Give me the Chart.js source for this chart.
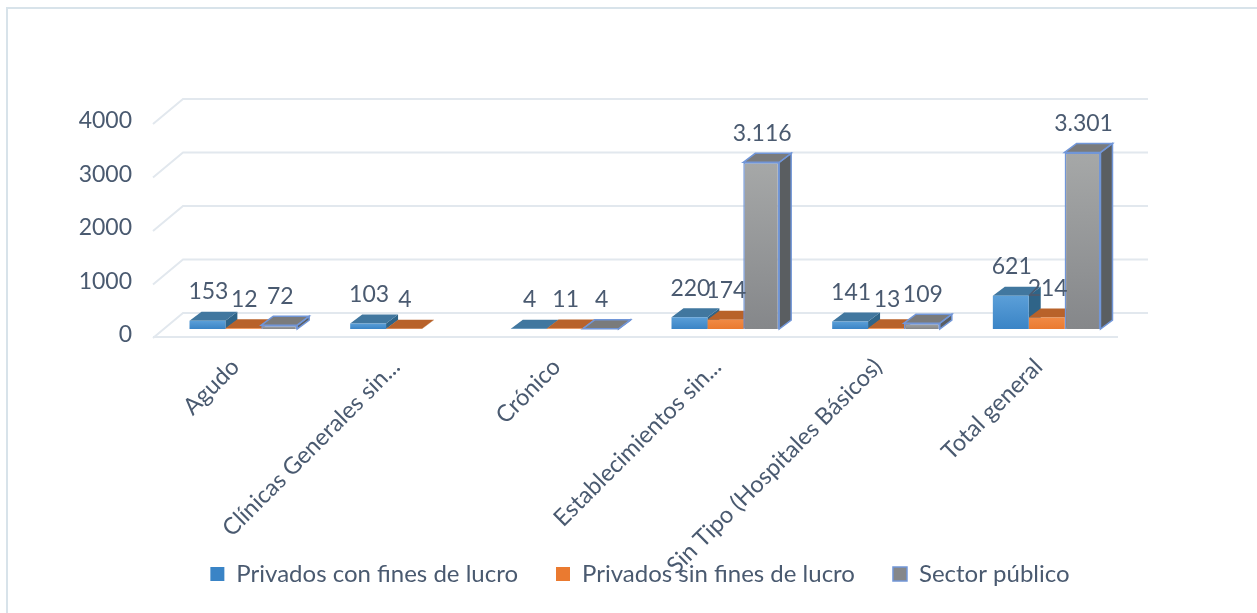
<!DOCTYPE html>
<html>
<head>
<meta charset="utf-8">
<script src="https://cdn.jsdelivr.net/npm/chart.js@4"></script>
<style>
  html, body { margin: 0; padding: 0; background: #fff; overflow: hidden; }
  #frame { position: absolute; left: 6px; top: 7px; width: 1260px; height: 620px; border: 2px solid #d8e3ea; box-sizing: border-box; }
  canvas { position: absolute; left: 0; top: 0; filter: blur(0.6px); }
</style>
</head>
<body>
<div id="frame"></div>
<canvas id="chart" width="1257" height="613"></canvas>
<script>
const categories = ['Agudo', 'Clínicas Generales sin...', 'Crónico', 'Establecimientos sin...', 'Sin Tipo (Hospitales Básicos)', 'Total general'];
const conFines = [153, 103, 4, 220, 141, 621];
const sinFines = [12, 4, 11, 174, 13, 214];
const publico = [72, null, 4, 3116, 109, 3301];

const textColor = '#4a5a70';
const gridColor = '#e2e8ee';
const fontFamily = 'Lato, sans-serif';

// front gradient top/bottom, then top face and side face of each series
const shades = [
  { hi: '#5b9fd8', lo: '#3a84c6', top: '#41779f', side: '#2f6488' },
  { hi: '#f08a45', lo: '#ea7a30', top: '#b8622a', side: '#a4541f' },
  { hi: '#a6a8a8', lo: '#85878a', top: '#7a7b7c', side: '#5a5e61' }
];
const depthX = 12;
const depthY = -9;

function frontFill(c) {
  const s = shades[c.datasetIndex];
  if (c.dataIndex === undefined || c.raw === null || c.raw === undefined) return s.lo;
  const y = c.chart.scales.y;
  const y0 = y.getPixelForValue(c.raw), y1 = y.getPixelForValue(0);
  // the scale has no pixels yet on the first pass
  if (!isFinite(y0) || !isFinite(y1)) return s.lo;
  const g = c.chart.ctx.createLinearGradient(0, y0, 0, y1);
  g.addColorStop(0, s.hi);
  g.addColorStop(1, s.lo);
  return g;
}

function face(ctx, pts, fill, stroke) {
  ctx.beginPath();
  pts.forEach((p, i) => i ? ctx.lineTo(p[0], p[1]) : ctx.moveTo(p[0], p[1]));
  ctx.closePath();
  ctx.fillStyle = fill;
  ctx.fill();
  if (stroke) {
    ctx.strokeStyle = stroke;
    ctx.lineWidth = 1.5;
    ctx.stroke();
  }
}

// grid walls behind the bars
const wallGrid = {
  id: 'wallGrid',
  beforeDatasetsDraw(chart) {
    const { ctx, scales: { y } } = chart;
    ctx.save();
    ctx.strokeStyle = gridColor;
    ctx.lineWidth = 2;
    y.ticks.forEach(t => {
      const py = y.getPixelForValue(t.value);
      ctx.beginPath();
      ctx.moveTo(153, py + 9);
      ctx.lineTo(183, py - 16);
      ctx.lineTo(1148, py - 16);
      ctx.stroke();
    });
    const floor = y.getPixelForValue(0) + 8;
    ctx.beginPath();
    ctx.moveTo(153, floor);
    ctx.lineTo(1118, floor);
    ctx.stroke();
    ctx.restore();
  }
};

// top and side faces of all series, left to right, before any front is drawn
const depthFaces = {
  id: 'depthFaces',
  beforeDatasetsDraw(chart) {
    const { ctx } = chart;
    ctx.save();
    chart.data.datasets.forEach((ds, d) => {
      const s = shades[d];
      const stroke = ds.borderWidth ? ds.borderColor : null;
      chart.getDatasetMeta(d).data.forEach((bar, i) => {
        if (ds.data[i] === null) return;
        const { x, y, base, width } = bar.getProps(['x', 'y', 'base', 'width']);
        const l = x - width / 2, r = x + width / 2;
        face(ctx, [[r, y], [r + depthX, y + depthY], [r + depthX, base + depthY], [r, base]], s.side, stroke);
        face(ctx, [[l, y], [l + depthX, y + depthY], [r + depthX, y + depthY], [r, y]], s.top, stroke);
      });
    });
    ctx.restore();
  }
};

// value labels over each bar
const valueLabels = {
  id: 'valueLabels',
  afterDatasetsDraw(chart) {
    const { ctx } = chart;
    ctx.save();
    ctx.font = '23px ' + fontFamily;
    ctx.fillStyle = textColor;
    ctx.textAlign = 'center';
    ctx.textBaseline = 'middle';
    chart.data.datasets.forEach((ds, d) => {
      chart.getDatasetMeta(d).data.forEach((bar, i) => {
        if (ds.data[i] === null) return;
        ctx.fillText(ds.data[i].toLocaleString('es-CL'), bar.x + 1, bar.y - 29);
      });
    });
    ctx.restore();
  }
};

// the legend centres on the whole page, and long x labels may run down into it
const layoutFixes = {
  id: 'layoutFixes',
  afterLayout(chart) {
    chart.legend.left = 12;
    chart.legend.right = 1268;
    chart.scales.x.bottom = chart.height;
  }
};

new Chart(document.getElementById('chart').getContext('2d'), {
  type: 'bar',
  data: {
    labels: categories,
    datasets: [
      { label: 'Privados con fines de lucro', data: conFines, backgroundColor: frontFill },
      { label: 'Privados sin fines de lucro', data: sinFines, backgroundColor: frontFill },
      { label: 'Sector público', data: publico, backgroundColor: frontFill, borderColor: '#7196d8', borderWidth: 1.5 }
    ]
  },
  plugins: [wallGrid, depthFaces, valueLabels, layoutFixes],
  options: {
    responsive: false,
    animation: false,
    layout: { padding: { left: 0, right: 130, top: 115, bottom: 17 } },
    datasets: { bar: { categoryPercentage: 0.67, barPercentage: 1 } },
    scales: {
      x: {
        grid: { display: false },
        border: { display: false },
        afterFit(scale) { scale.height = 195; },
        ticks: {
          autoSkip: false,
          maxRotation: 45,
          minRotation: 45,
          padding: 16,
          labelOffset: -8,
          color: textColor,
          font: { family: fontFamily, size: 23.5 }
        }
      },
      y: {
        min: 0,
        max: 4000,
        grid: { display: false },
        border: { display: false },
        afterFit(scale) { scale.width = 163; },
        ticks: {
          stepSize: 1000,
          padding: 23,
          labelOffset: 6,
          color: textColor,
          font: { family: fontFamily, size: 23 },
          callback: v => String(v)
        }
      }
    },
    plugins: {
      tooltip: { enabled: false },
      legend: {
        position: 'bottom',
        labels: {
          boxWidth: 14,
          boxHeight: 14,
          padding: 38,
          color: textColor,
          font: { family: fontFamily, size: 24 }
        }
      }
    }
  }
});
</script>
</body>
</html>
